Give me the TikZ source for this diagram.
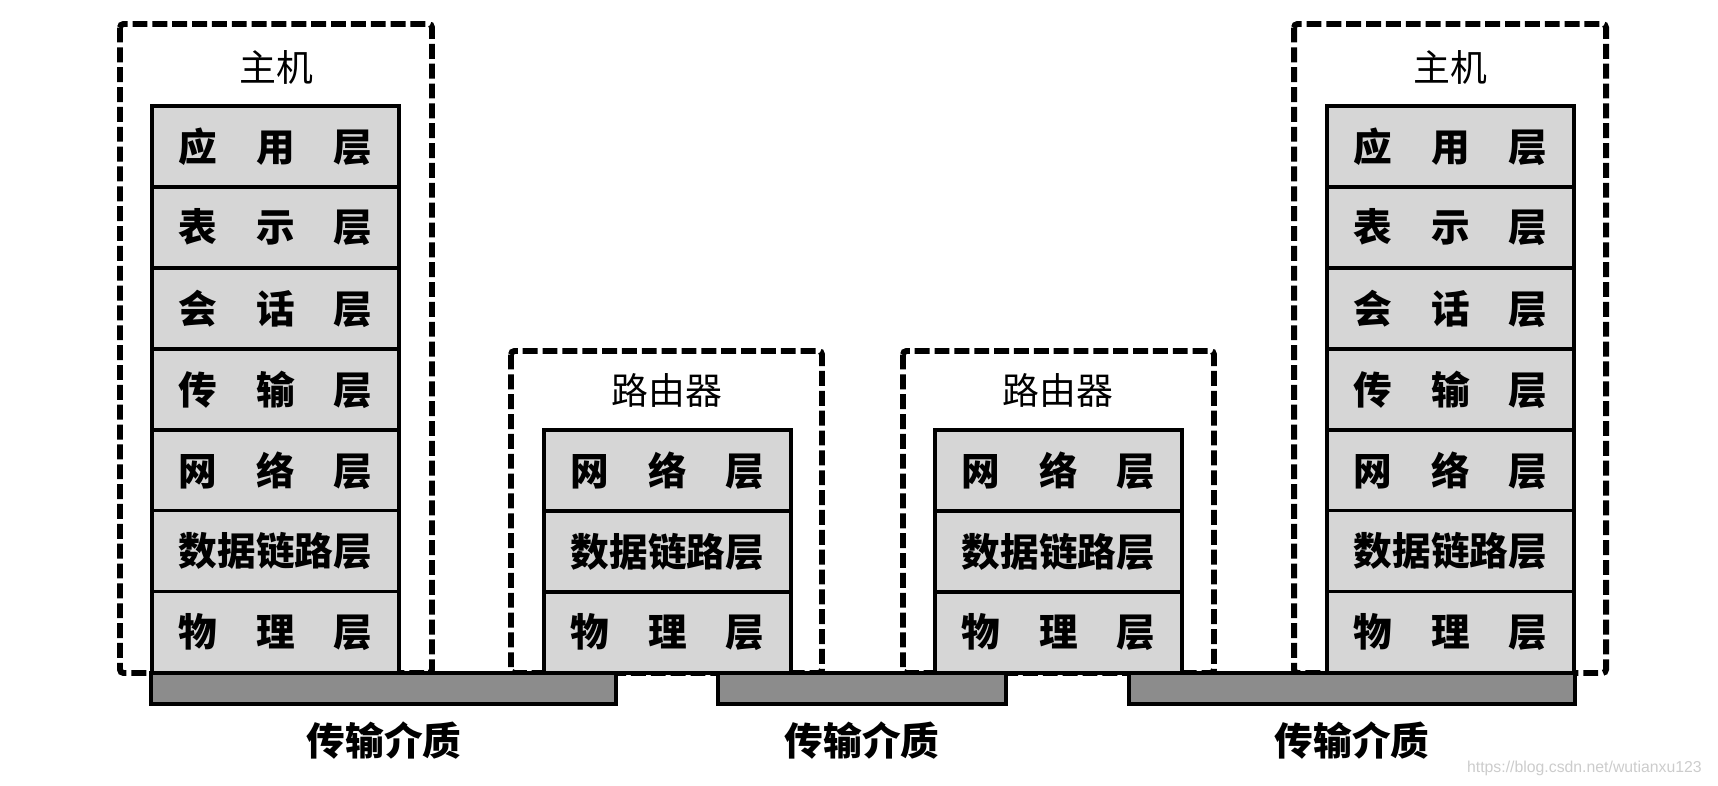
\documentclass[tikz,border=0pt]{standalone}
\usepackage{fontspec}
\newfontfamily\cjk{Noto Sans CJK SC}
\newfontfamily\wmfont{Liberation Sans}
\usetikzlibrary{positioning}
\definecolor{LayerClr}{gray}{0.84}
\definecolor{MediumClr}{gray}{0.55}
\definecolor{MarkClr}{gray}{0.80}
\newcommand\spreadthree[3]{\makebox[5em][s]{#1\hfill#2\hfill#3}}
\tikzset{
  layer/.style={draw, line width=1.8pt, fill=LayerClr, outer sep=0pt, inner sep=0pt,
    minimum width=4.94cm, minimum height=1.62cm,
    font=\cjk\bfseries\fontsize{22}{24}\selectfont},
  devbox/.style={draw, line width=3.4pt, dash pattern=on 8.5pt off 2.8pt, rounded corners=2pt},
  medium/.style={draw, line width=1.8pt, fill=MediumClr},
  devname/.style={font=\cjk\fontsize{21}{24}\selectfont},
  mediumname/.style={font=\cjk\bfseries\fontsize{22}{24}\selectfont},
}

\begin{document}
\begin{tikzpicture}[x=0.02cm,y=-0.02cm]
\useasboundingbox (0,0) rectangle (1718,786);

% dashed device frames
\draw[devbox] (120,24) rectangle (432,673);
\draw[devbox] (511,351) rectangle (822,673);
\draw[devbox] (903,351) rectangle (1214,673);
\draw[devbox] (1294,24) rectangle (1606,673);

% left host
\node[devname] (hostL) at (276,67) {主机};
\node[layer, anchor=north west] (hLa) at (152,106) {\spreadthree{应}{用}{层}};
\node[layer, below=0pt of hLa] (hLb) {\spreadthree{表}{示}{层}};
\node[layer, below=0pt of hLb] (hLc) {\spreadthree{会}{话}{层}};
\node[layer, below=0pt of hLc] (hLd) {\spreadthree{传}{输}{层}};
\node[layer, below=0pt of hLd] (hLe) {\spreadthree{网}{络}{层}};
\node[layer, below=0pt of hLe] (hLf) {数据链路层};
\node[layer, below=0pt of hLf] (hLg) {\spreadthree{物}{理}{层}};

% router 1
\node[devname] (rtA) at (667,390) {路由器};
\node[layer, anchor=north west] (rAe) at (544,430) {\spreadthree{网}{络}{层}};
\node[layer, below=0pt of rAe] (rAf) {数据链路层};
\node[layer, below=0pt of rAf] (rAg) {\spreadthree{物}{理}{层}};

% router 2
\node[devname] (rtB) at (1058,390) {路由器};
\node[layer, anchor=north west] (rBe) at (935,430) {\spreadthree{网}{络}{层}};
\node[layer, below=0pt of rBe] (rBf) {数据链路层};
\node[layer, below=0pt of rBf] (rBg) {\spreadthree{物}{理}{层}};

% right host
\node[devname] (hostR) at (1450,67) {主机};
\node[layer, anchor=north west] (hRa) at (1327,106) {\spreadthree{应}{用}{层}};
\node[layer, below=0pt of hRa] (hRb) {\spreadthree{表}{示}{层}};
\node[layer, below=0pt of hRb] (hRc) {\spreadthree{会}{话}{层}};
\node[layer, below=0pt of hRc] (hRd) {\spreadthree{传}{输}{层}};
\node[layer, below=0pt of hRd] (hRe) {\spreadthree{网}{络}{层}};
\node[layer, below=0pt of hRe] (hRf) {数据链路层};
\node[layer, below=0pt of hRf] (hRg) {\spreadthree{物}{理}{层}};

% transmission media
\draw[medium] (151,673) rectangle (616,704);
\draw[medium] (718,673) rectangle (1006,704);
\draw[medium] (1129,673) rectangle (1575,704);
\node[mediumname] (medA) at (384,741) {传输介质};
\node[mediumname] (medB) at (862,741) {传输介质};
\node[mediumname] (medC) at (1352,741) {传输介质};

\node[font=\wmfont\fontsize{9}{10}\selectfont, text=MarkClr, anchor=east] (mark) at (1708,768) {https://blog.csdn.net/wutianxu123};
\end{tikzpicture}
\end{document}
